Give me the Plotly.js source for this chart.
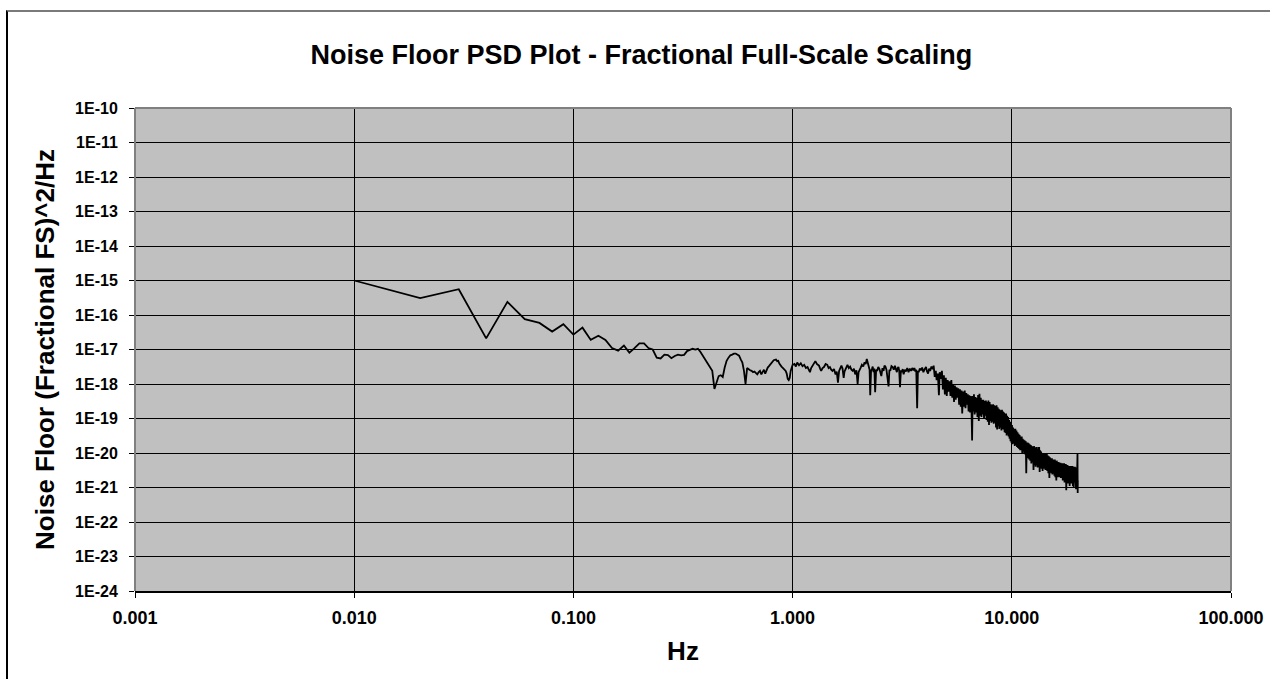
<!DOCTYPE html>
<html>
<head>
<meta charset="utf-8">
<script src="https://cdn.plot.ly/plotly-3.0.1.min.js"></script>
<style>
  html, body { margin: 0; padding: 0; background: #fff; }
  #wrap { position: relative; width: 1270px; height: 679px; overflow: hidden; }
  #chart { width: 1270px; height: 679px; }
  /* chart-area frame: only the top and left edges fall inside the page */
  #frame { position: absolute; left: 6px; top: 10px; width: 1400px; height: 800px;
           border-top: 2px solid #7a7a7a; border-left: 2px solid #000; pointer-events: none; }
</style>
</head>
<body>
<div id="wrap">
  <div id="chart"></div>
  <div id="frame"></div>
</div>
<script>
// Low-frequency bins, 0.01 Hz resolution up to 1 Hz
const lowFreq = [
  0.01,0.02,0.03,0.04,0.05,0.06,0.07,0.08,0.09,0.10,
  0.11,0.12,0.13,0.14,0.15,0.16,0.17,0.18,0.19,0.20,
  0.21,0.22,0.23,0.24,0.25,0.26,0.27,0.28,0.29,0.30,
  0.31,0.32,0.33,0.34,0.35,0.36,0.37,0.38,0.39,0.40,
  0.41,0.42,0.43,0.44,0.45,0.46,0.47,0.48,0.49,0.50,
  0.51,0.52,0.53,0.54,0.55,0.56,0.57,0.58,0.59,0.60,
  0.61,0.62,0.63,0.64,0.65,0.66,0.67,0.68,0.69,0.70,
  0.71,0.72,0.73,0.74,0.75,0.76,0.77,0.78,0.79,0.80,
  0.81,0.82,0.83,0.84,0.85,0.86,0.87,0.88,0.89,0.90,
  0.91,0.92,0.93,0.94,0.95,0.96,0.97,0.98,0.99,1.00
];
const lowPsd = [
  1.0e-15,3.1e-16,5.6e-16,2.1e-17,2.4e-16,7.6e-17,5.9e-17,3.3e-17,5.4e-17,2.7e-17,
  4.3e-17,1.9e-17,2.5e-17,1.9e-17,1.1e-17,9.3e-18,1.3e-17,8.1e-18,1.1e-17,1.5e-17,
  1.5e-17,1.1e-17,1.0e-17,5.8e-18,5.5e-18,7.1e-18,6.9e-18,5.6e-18,6.5e-18,7.1e-18,
  6.8e-18,7.0e-18,9.0e-18,1.0e-17,1.05e-17,1.0e-17,1.05e-17,8.5e-18,6.6e-18,5.0e-18,
  3.8e-18,3.2e-18,2.4e-18,7.2e-19,1.2e-18,1.7e-18,1.8e-18,1.6e-18,3.0e-18,4.7e-18,
  5.8e-18,6.8e-18,7.1e-18,7.6e-18,7.6e-18,7.0e-18,6.6e-18,5.2e-18,4.2e-18,2.4e-18,
  1.0e-18,2.9e-18,2.6e-18,2.5e-18,2.4e-18,2.2e-18,2.3e-18,2.0e-18,1.9e-18,2.2e-18,
  2.4e-18,1.9e-18,2.2e-18,2.6e-18,2.0e-18,2.5e-18,3.0e-18,3.3e-18,3.7e-18,4.2e-18,
  4.6e-18,4.9e-18,5.0e-18,5.1e-18,4.6e-18,4.7e-18,3.9e-18,3.4e-18,3.2e-18,3.0e-18,
  2.8e-18,2.6e-18,2.4e-18,2.0e-18,1.4e-18,1.3e-18,1.5e-18,2.4e-18,3.2e-18,3.6e-18
];

// Mid band, 1 Hz to 4.7 Hz
const midFreq = [
  1.02,1.035,1.05,1.07,1.09,1.11,1.13,1.15,1.17,1.185,
  1.20,1.215,1.23,1.25,1.27,1.29,1.32,1.335,1.35,1.37,
  1.39,1.415,1.44,1.46,1.48,1.50,1.52,1.545,1.57,1.59,
  1.61,1.63,1.65,1.67,1.69,1.71,1.725,1.74,1.76,1.78,
  1.805,1.83,1.855,1.88,1.905,1.93,1.955,1.98,2.00,2.02,
  2.045,2.07,2.10,2.13,2.155,2.18,2.205,2.23,2.245,2.26,
  2.28,2.30,2.32,2.34,2.36,2.38,2.405,2.43,2.46,2.49,
  2.515,2.54,2.57,2.60,2.625,2.65,2.68,2.71,2.74,2.765,
  2.79,2.825,2.86,2.895,2.93,2.96,2.99,3.015,3.04,3.065,
  3.09,3.12,3.15,3.18,3.21,3.25,3.29,3.335,3.38,3.425,
  3.47,3.515,3.56,3.595,3.63,3.665,3.70,3.73,3.76,3.805,
  3.85,3.90,3.95,4.005,4.06,4.105,4.15,4.195,4.24,4.30,
  4.36,4.40,4.45,4.50,4.54,4.60,4.65,4.69,4.73
];
const midPsd = [
  3.8e-18,3.2e-18,4.2e-18,3.5e-18,4.0e-18,3.3e-18,3.6e-18,2.9e-18,3.1e-18,2.6e-18,
  2.2e-18,2.9e-18,3.4e-18,3.9e-18,4.6e-18,3.8e-18,3.4e-18,2.8e-18,2.4e-18,2.9e-18,
  3.1e-18,3.8e-18,3.6e-18,2.9e-18,3.1e-18,2.6e-18,2.4e-18,2.7e-18,1.9e-18,2.3e-18,
  1.1e-18,2.4e-18,3.0e-18,3.4e-18,2.8e-18,1.5e-18,2.3e-18,2.7e-18,3.2e-18,3.6e-18,
  2.9e-18,3.2e-18,2.6e-18,2.4e-18,2.8e-18,1.9e-18,2.5e-18,1.0e-18,2.2e-18,2.7e-18,
  3.0e-18,3.6e-18,3.2e-18,4.3e-18,3.8e-18,5.3e-18,4.0e-18,3.4e-18,2.6e-18,4.7e-19,
  2.4e-18,2.7e-18,3.2e-18,2.2e-18,2.8e-18,5.8e-19,2.6e-18,2.4e-18,3.1e-18,2.7e-18,
  2.1e-18,1.7e-18,2.9e-18,2.4e-18,3.4e-18,3.2e-18,2.6e-18,1.4e-18,8.5e-19,2.6e-18,
  2.4e-18,3.3e-18,3.1e-18,2.6e-18,3.4e-18,2.7e-18,2.2e-18,2.9e-18,3.1e-18,2.4e-18,
  8.1e-19,2.5e-18,2.2e-18,2.7e-18,1.9e-18,2.6e-18,2.3e-18,2.9e-18,2.2e-18,2.8e-18,
  2.4e-18,2.9e-18,2.5e-18,2.9e-18,2.3e-18,2.6e-18,2.0e-19,2.4e-18,2.2e-18,2.8e-18,
  2.5e-18,3.0e-18,2.2e-18,2.7e-18,3.1e-18,2.3e-18,2.0e-18,2.8e-18,2.4e-18,3.2e-18,
  2.7e-18,3.4e-18,1.6e-18,2.4e-18,1.3e-18,2.0e-18,4.7e-19,2.2e-18,1.4e-18
];

// High band roll-off, 4.8 Hz to 20 Hz
const highFreq = [
  4.80,4.85,4.90,4.95,5.00,5.05,5.10,5.15,5.20,5.25,5.30,5.35,5.40,5.45,5.50,5.55,5.60,5.65,5.70,5.75,
  5.80,5.85,5.90,5.94,6.00,6.05,6.10,6.15,6.20,6.25,6.30,6.35,6.40,6.45,6.50,6.55,6.59,6.63,6.68,6.72,
  6.77,6.82,6.87,6.92,6.97,7.02,7.07,7.12,7.17,7.22,7.27,7.32,7.37,7.42,7.47,7.52,7.57,7.62,7.67,7.72,
  7.77,7.82,7.87,7.92,7.97,8.02,8.07,8.12,8.17,8.22,8.27,8.32,8.37,8.42,8.47,8.52,8.57,8.62,8.67,8.72,
  8.77,8.82,8.87,8.92,8.97,9.02,9.07,9.12,9.17,9.22,9.27,9.32,9.37,9.42,9.47,9.52,9.57,9.62,9.67,9.72,
  9.77,9.82,9.87,9.92,9.97,10.02,10.08,10.14,10.20,10.26,10.32,10.38,10.44,10.50,10.56,10.62,10.68,10.74,10.80,10.86,
  10.92,10.98,11.04,11.10,11.16,11.22,11.28,11.34,11.40,11.46,11.52,11.58,11.64,11.70,11.76,11.82,11.88,11.94,12.00,12.07,
  12.14,12.21,12.28,12.35,12.42,12.49,12.56,12.63,12.70,12.77,12.84,12.91,12.98,13.05,13.12,13.19,13.26,13.33,13.40,13.47,
  13.54,13.61,13.68,13.75,13.82,13.89,13.96,14.03,14.10,14.17,14.24,14.31,14.38,14.45,14.52,14.60,14.68,14.76,14.84,14.92,
  15.00,15.08,15.16,15.24,15.32,15.40,15.48,15.56,15.64,15.72,15.80,15.88,15.96,16.04,16.12,16.20,16.28,16.36,16.44,16.52,
  16.60,16.68,16.76,16.84,16.92,17.00,17.08,17.16,17.24,17.32,17.40,17.48,17.56,17.64,17.72,17.80,17.88,17.96,18.04,18.12,
  18.20,18.28,18.36,18.44,18.52,18.60,18.68,18.76,18.84,18.92,19.00,19.08,19.16,19.24,19.32,19.40,19.48,19.56,19.64,19.72,
  19.80,19.88,19.94,19.98,20.00
];
const highPsd = [
  2.4e-18,7.0e-19,1.8e-18,5.0e-19,1.5e-18,4.5e-19,1.3e-18,6.0e-19,1.2e-18,4.5e-19,1.3e-18,4.0e-19,1.0e-18,3.0e-19,9.0e-19,3.5e-19,8.0e-19,4.0e-19,7.5e-19,2.5e-19,
  7.0e-19,2.2e-19,6.5e-19,1.4e-19,6.0e-19,2.2e-19,6.5e-19,2.0e-19,5.5e-19,2.5e-19,5.0e-19,1.6e-19,4.7e-19,1.5e-19,4.5e-19,1.8e-19,2.3e-20,4.5e-19,1.6e-19,5.0e-19,
  1.3e-19,4.2e-19,1.5e-19,4.0e-19,1.1e-19,4.8e-19,8.5e-20,5.2e-19,1.2e-19,4.0e-19,1.1e-19,3.5e-19,1.3e-19,3.5e-19,1.0e-19,3.2e-19,1.2e-19,3.3e-19,9.0e-20,3.0e-19,
  8.0e-20,3.3e-19,6.5e-20,3.0e-19,8.5e-20,2.6e-19,7.5e-20,2.5e-19,8.0e-20,2.6e-19,7.0e-20,2.4e-19,7.5e-20,2.3e-19,5.5e-20,2.4e-19,4.8e-20,2.1e-19,6.0e-20,1.9e-19,
  5.0e-20,1.8e-19,5.5e-20,1.7e-19,4.5e-20,1.8e-19,5.0e-20,1.6e-19,4.8e-20,1.5e-19,4.0e-20,1.4e-19,3.8e-20,1.4e-19,3.2e-20,1.2e-19,3.5e-20,1.1e-19,3.0e-20,9.0e-20,
  2.6e-20,8.0e-20,2.2e-20,7.0e-20,2.0e-20,6.5e-20,1.8e-20,5.5e-20,1.9e-20,5.0e-20,1.6e-20,5.0e-20,1.7e-20,4.5e-20,1.5e-20,4.0e-20,1.4e-20,3.6e-20,1.3e-20,3.3e-20,
  1.2e-20,3.0e-20,1.2e-20,3.0e-20,1.0e-20,2.6e-20,1.1e-20,2.4e-20,1.0e-20,2.3e-20,9.0e-21,2.2e-20,2.6e-21,2.0e-20,8.0e-21,2.0e-20,7.0e-21,1.9e-20,6.5e-21,1.8e-20,
  6.0e-21,1.7e-20,5.0e-21,1.6e-20,5.5e-21,1.5e-20,3.2e-21,1.6e-20,4.5e-21,1.4e-20,4.0e-21,1.5e-20,4.5e-21,1.3e-20,3.8e-21,1.5e-20,4.0e-21,1.5e-20,2.8e-21,1.2e-20,
  3.8e-21,1.1e-20,3.5e-21,1.0e-20,3.0e-21,1.0e-20,3.6e-21,9.5e-21,3.5e-21,1.0e-20,3.2e-21,9.0e-21,3.6e-21,9.5e-21,3.0e-21,8.5e-21,2.6e-21,8.0e-21,1.9e-21,7.5e-21,
  2.8e-21,7.0e-21,2.6e-21,7.0e-21,2.4e-21,6.5e-21,2.6e-21,6.5e-21,2.2e-21,6.5e-21,2.0e-21,6.0e-21,1.6e-21,6.0e-21,2.0e-21,5.5e-21,2.2e-21,5.5e-21,2.0e-21,5.0e-21,
  2.2e-21,5.2e-21,1.9e-21,5.0e-21,2.0e-21,5.0e-21,1.6e-21,4.8e-21,1.8e-21,5.0e-21,1.4e-21,4.5e-21,1.6e-21,4.8e-21,8.3e-22,4.5e-21,1.5e-21,4.5e-21,1.3e-21,4.0e-21,
  1.6e-21,4.2e-21,1.1e-21,4.0e-21,1.4e-21,4.2e-21,1.3e-21,3.8e-21,1.5e-21,4.2e-21,1.1e-21,4.0e-21,1.0e-21,3.8e-21,1.4e-21,4.0e-21,1.2e-21,3.6e-21,9.0e-22,3.8e-21,
  1.0e-21,3.5e-21,9.5e-21,6.9e-22,1.6e-21
];

// Axis ticks
const xTickVals = [0.001, 0.01, 0.1, 1, 10, 100];
const xTickText = ['0.001', '0.010', '0.100', '1.000', '10.000', '100.000'];
const yTickVals = [1e-10,1e-11,1e-12,1e-13,1e-14,1e-15,1e-16,1e-17,1e-18,1e-19,1e-20,1e-21,1e-22,1e-23,1e-24];
const yTickText = ['1E-10','1E-11','1E-12','1E-13','1E-14','1E-15','1E-16','1E-17','1E-18','1E-19','1E-20','1E-21','1E-22','1E-23','1E-24'];

const chartTitle = 'Noise Floor PSD Plot - Fractional Full-Scale Scaling';
const xTitle = 'Hz';
const yTitle = 'Noise Floor (Fractional FS)^2/Hz';

const FONT = 'Liberation Sans, Arial, Helvetica, sans-serif';

const freq = lowFreq.concat(midFreq, highFreq);
const psd = lowPsd.concat(midPsd, highPsd);

const trace = {
  x: freq,
  y: psd,
  type: 'scatter',
  mode: 'lines',
  line: { color: '#000000', width: 1.8 },
  hoverinfo: 'skip'
};

const frameColor = '#808080';
const layout = {
  width: 1270,
  height: 679,
  margin: { l: 135, r: 39, t: 108, b: 88 },
  paper_bgcolor: '#ffffff',
  plot_bgcolor: '#c0c0c0',
  showlegend: false,
  title: {
    text: '<b>' + chartTitle + '</b>',
    font: { family: FONT, size: 27, color: '#000' },
    xref: 'container', x: 0.505, xanchor: 'center',
    yref: 'container', y: 1 - 55 / 679, yanchor: 'middle'
  },
  xaxis: {
    type: 'log',
    range: [-3, 2],
    tickmode: 'array',
    tickvals: xTickVals,
    ticktext: xTickText,
    ticks: 'outside', ticklen: 5, tickwidth: 1, tickcolor: '#000',
    tickfont: { family: FONT, size: 18, color: '#000', weight: 'bold' },
    ticklabelstandoff: 5,
    showgrid: true, gridcolor: '#000', gridwidth: 1,
    showline: true, linecolor: '#000', linewidth: 1.5, mirror: false,
    zeroline: false,
    title: { text: '<b>' + xTitle + '</b>', font: { family: FONT, size: 26, color: '#000' }, standoff: 14 }
  },
  yaxis: {
    type: 'log',
    range: [-24, -10],
    tickmode: 'array',
    tickvals: yTickVals,
    ticktext: yTickText,
    ticks: 'outside', ticklen: 5, tickwidth: 1, tickcolor: '#000',
    tickfont: { family: FONT, size: 16, color: '#000', weight: 'bold' },
    ticklabelstandoff: 8,
    showgrid: true, gridcolor: '#000', gridwidth: 1,
    showline: false,
    zeroline: false,
    title: { text: '<b>' + yTitle + '</b>', font: { family: FONT, size: 26, color: '#000' }, standoff: 12 }
  },
  shapes: [
    { type: 'line', xref: 'paper', yref: 'paper', x0: 0, x1: 0, y0: 0, y1: 1, line: { color: frameColor, width: 2 }, layer: 'above' },
    { type: 'line', xref: 'paper', yref: 'paper', x0: 0, x1: 1, y0: 1, y1: 1, line: { color: frameColor, width: 2 }, layer: 'above' },
    { type: 'line', xref: 'paper', yref: 'paper', x0: 1, x1: 1, y0: 0, y1: 1, line: { color: frameColor, width: 2 }, layer: 'above' }
  ]
};

Plotly.newPlot('chart', [trace], layout, { displayModeBar: false, staticPlot: true });
</script>
</body>
</html>
